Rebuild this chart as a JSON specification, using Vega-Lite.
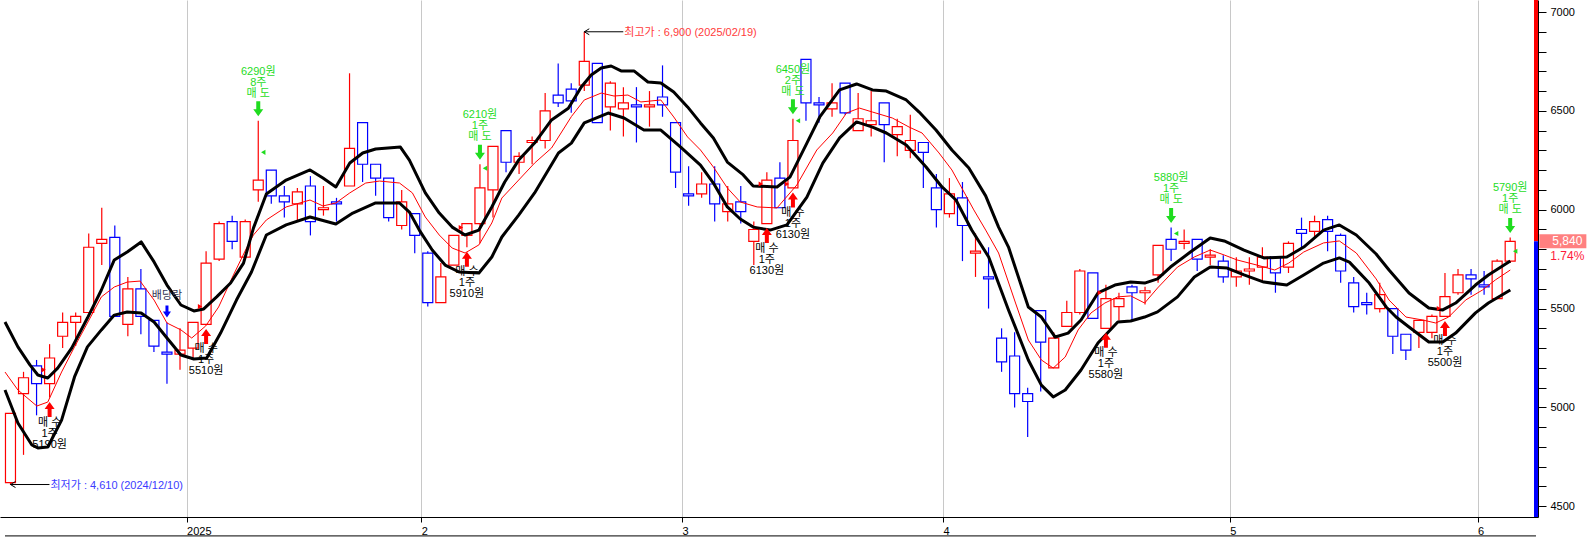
{
  "$schema": "https://vega.github.io/schema/vega-lite/v6.json",
  "description": "Daily candles Dec 2024 - Jun 2025 with envelope bands and trade marks",
  "width": 1538,
  "height": 517,
  "autosize": {"type": "none"},
  "padding": {"left": 0, "top": 0, "right": 54, "bottom": 20},
  "background": "white",
  "config": {
    "view": {"stroke": null},
    "axis": {"labelOverlap": false, "labelFlush": false, "title": null}
  },
  "datasets": {
    "candles": [
      {"i":0,"o":4620,"h":4970,"l":4610,"c":4970},
      {"i":1,"o":5070,"h":5180,"l":4760,"c":5150},
      {"i":2,"o":5210,"h":5240,"l":4960,"c":5120},
      {"i":3,"o":5120,"h":5320,"l":5050,"c":5250},
      {"i":4,"o":5360,"h":5480,"l":5300,"c":5430},
      {"i":5,"o":5430,"h":5480,"l":5310,"c":5460},
      {"i":6,"o":5480,"h":5880,"l":5480,"c":5810},
      {"i":7,"o":5830,"h":6010,"l":5720,"c":5850},
      {"i":8,"o":5860,"h":5920,"l":5460,"c":5460},
      {"i":9,"o":5420,"h":5660,"l":5360,"c":5600},
      {"i":10,"o":5600,"h":5700,"l":5370,"c":5460},
      {"i":11,"o":5440,"h":5440,"l":5280,"c":5310},
      {"i":12,"o":5280,"h":5430,"l":5120,"c":5270},
      {"i":13,"o":5270,"h":5400,"l":5190,"c":5290},
      {"i":14,"o":5300,"h":5430,"l":5250,"c":5430},
      {"i":15,"o":5420,"h":5790,"l":5420,"c":5730},
      {"i":16,"o":5750,"h":5940,"l":5740,"c":5930},
      {"i":17,"o":5940,"h":5970,"l":5800,"c":5840},
      {"i":18,"o":5760,"h":5950,"l":5760,"c":5940},
      {"i":19,"o":6100,"h":6450,"l":6040,"c":6150},
      {"i":20,"o":6200,"h":6200,"l":6030,"c":6070},
      {"i":21,"o":6070,"h":6120,"l":5960,"c":6040},
      {"i":22,"o":6030,"h":6110,"l":5940,"c":6090},
      {"i":23,"o":6120,"h":6170,"l":5870,"c":5940},
      {"i":24,"o":6000,"h":6120,"l":5970,"c":6010},
      {"i":25,"o":6040,"h":6060,"l":5940,"c":6030},
      {"i":26,"o":6120,"h":6690,"l":6120,"c":6310},
      {"i":27,"o":6440,"h":6440,"l":6140,"c":6230},
      {"i":28,"o":6230,"h":6230,"l":6070,"c":6160},
      {"i":29,"o":6160,"h":6160,"l":5940,"c":5960},
      {"i":30,"o":5920,"h":6100,"l":5900,"c":6040},
      {"i":31,"o":5980,"h":5980,"l":5780,"c":5870},
      {"i":32,"o":5780,"h":5790,"l":5510,"c":5530},
      {"i":33,"o":5530,"h":5730,"l":5530,"c":5660},
      {"i":34,"o":5720,"h":5870,"l":5720,"c":5870},
      {"i":35,"o":5870,"h":5930,"l":5810,"c":5930},
      {"i":36,"o":5930,"h":6230,"l":5830,"c":6110},
      {"i":37,"o":6100,"h":6320,"l":5960,"c":6320},
      {"i":38,"o":6400,"h":6400,"l":6190,"c":6240},
      {"i":39,"o":6240,"h":6290,"l":6180,"c":6270},
      {"i":40,"o":6340,"h":6370,"l":6230,"c":6350},
      {"i":41,"o":6350,"h":6590,"l":6310,"c":6500},
      {"i":42,"o":6580,"h":6740,"l":6520,"c":6540},
      {"i":43,"o":6610,"h":6640,"l":6490,"c":6550},
      {"i":44,"o":6630,"h":6900,"l":6600,"c":6750},
      {"i":45,"o":6740,"h":6740,"l":6440,"c":6440},
      {"i":46,"o":6520,"h":6650,"l":6400,"c":6640},
      {"i":47,"o":6510,"h":6620,"l":6370,"c":6540},
      {"i":48,"o":6530,"h":6620,"l":6340,"c":6520},
      {"i":49,"o":6520,"h":6600,"l":6420,"c":6530},
      {"i":50,"o":6570,"h":6730,"l":6470,"c":6530},
      {"i":51,"o":6440,"h":6440,"l":6110,"c":6190},
      {"i":52,"o":6080,"h":6220,"l":6020,"c":6070},
      {"i":53,"o":6080,"h":6190,"l":6060,"c":6130},
      {"i":54,"o":6130,"h":6220,"l":5940,"c":6030},
      {"i":55,"o":5990,"h":6120,"l":5940,"c":6030},
      {"i":56,"o":6040,"h":6120,"l":5930,"c":5990},
      {"i":57,"o":5840,"h":5940,"l":5720,"c":5900},
      {"i":58,"o":5930,"h":6190,"l":5930,"c":6150},
      {"i":59,"o":6160,"h":6240,"l":6010,"c":6010},
      {"i":60,"o":6110,"h":6460,"l":6110,"c":6350},
      {"i":61,"o":6760,"h":6760,"l":6450,"c":6540},
      {"i":62,"o":6540,"h":6570,"l":6440,"c":6530},
      {"i":63,"o":6510,"h":6640,"l":6470,"c":6540},
      {"i":64,"o":6640,"h":6640,"l":6480,"c":6490},
      {"i":65,"o":6400,"h":6590,"l":6400,"c":6460},
      {"i":66,"o":6430,"h":6600,"l":6370,"c":6450},
      {"i":67,"o":6540,"h":6540,"l":6240,"c":6430},
      {"i":68,"o":6380,"h":6460,"l":6270,"c":6420},
      {"i":69,"o":6300,"h":6480,"l":6260,"c":6350},
      {"i":70,"o":6340,"h":6340,"l":6110,"c":6290},
      {"i":71,"o":6110,"h":6180,"l":5910,"c":6000},
      {"i":72,"o":5980,"h":6160,"l":5960,"c":6080},
      {"i":73,"o":6060,"h":6140,"l":5740,"c":5920},
      {"i":74,"o":5780,"h":5880,"l":5660,"c":5790},
      {"i":75,"o":5660,"h":5810,"l":5500,"c":5650},
      {"i":76,"o":5350,"h":5400,"l":5180,"c":5230},
      {"i":77,"o":5260,"h":5380,"l":5000,"c":5070},
      {"i":78,"o":5070,"h":5100,"l":4850,"c":5030},
      {"i":79,"o":5490,"h":5490,"l":5080,"c":5330},
      {"i":80,"o":5200,"h":5380,"l":5200,"c":5350},
      {"i":81,"o":5410,"h":5540,"l":5410,"c":5480},
      {"i":82,"o":5480,"h":5700,"l":5470,"c":5690},
      {"i":83,"o":5680,"h":5680,"l":5450,"c":5450},
      {"i":84,"o":5400,"h":5620,"l":5400,"c":5550},
      {"i":85,"o":5510,"h":5580,"l":5440,"c":5550},
      {"i":86,"o":5610,"h":5620,"l":5440,"c":5580},
      {"i":87,"o":5580,"h":5610,"l":5520,"c":5590},
      {"i":88,"o":5670,"h":5820,"l":5630,"c":5820},
      {"i":89,"o":5850,"h":5910,"l":5740,"c":5800},
      {"i":90,"o":5830,"h":5900,"l":5800,"c":5840},
      {"i":91,"o":5850,"h":5850,"l":5690,"c":5750},
      {"i":92,"o":5760,"h":5800,"l":5720,"c":5770},
      {"i":93,"o":5740,"h":5770,"l":5630,"c":5660},
      {"i":94,"o":5660,"h":5760,"l":5610,"c":5690},
      {"i":95,"o":5690,"h":5760,"l":5620,"c":5700},
      {"i":96,"o":5710,"h":5810,"l":5640,"c":5760},
      {"i":97,"o":5760,"h":5760,"l":5580,"c":5680},
      {"i":98,"o":5710,"h":5840,"l":5680,"c":5830},
      {"i":99,"o":5900,"h":5960,"l":5800,"c":5880},
      {"i":100,"o":5890,"h":5970,"l":5860,"c":5940},
      {"i":101,"o":5950,"h":5970,"l":5790,"c":5890},
      {"i":102,"o":5870,"h":5880,"l":5630,"c":5690},
      {"i":103,"o":5630,"h":5660,"l":5480,"c":5510},
      {"i":104,"o":5530,"h":5580,"l":5470,"c":5520},
      {"i":105,"o":5500,"h":5630,"l":5480,"c":5570},
      {"i":106,"o":5500,"h":5500,"l":5270,"c":5360},
      {"i":107,"o":5370,"h":5370,"l":5240,"c":5290},
      {"i":108,"o":5380,"h":5440,"l":5300,"c":5440},
      {"i":109,"o":5380,"h":5470,"l":5350,"c":5460},
      {"i":110,"o":5460,"h":5680,"l":5460,"c":5560},
      {"i":111,"o":5580,"h":5700,"l":5570,"c":5670},
      {"i":112,"o":5670,"h":5700,"l":5570,"c":5650},
      {"i":113,"o":5620,"h":5690,"l":5570,"c":5610},
      {"i":114,"o":5550,"h":5750,"l":5550,"c":5740},
      {"i":115,"o":5740,"h":5860,"l":5730,"c":5840}
    ],
    "mid": [
      {"i":-0.42,"p":5179},{"i":0.57,"p":5088},{"i":2.02,"p":5007},{"i":2.86,"p":5027},{"i":3.92,"p":5179},
      {"i":4.91,"p":5306},{"i":5.9,"p":5427},{"i":6.97,"p":5559},{"i":7.96,"p":5609},{"i":8.95,"p":5634},
      {"i":9.94,"p":5639},{"i":11.01,"p":5543},{"i":12.0,"p":5427},{"i":13.07,"p":5392},{"i":13.9,"p":5351},
      {"i":14.97,"p":5412},{"i":15.96,"p":5508},{"i":17.1,"p":5670},{"i":18.1,"p":5806},{"i":18.63,"p":5872},
      {"i":19.62,"p":5948},{"i":21.14,"p":6014},{"i":22.97,"p":6049},{"i":23.96,"p":6019},{"i":24.95,"p":6034},
      {"i":26.02,"p":6085},{"i":27.24,"p":6135},{"i":28.3,"p":6145},{"i":29.83,"p":6135},{"i":30.82,"p":6085},
      {"i":31.81,"p":5963},{"i":32.88,"p":5872},{"i":33.87,"p":5806},{"i":34.86,"p":5781},{"i":35.92,"p":5822},
      {"i":36.91,"p":5933},{"i":37.68,"p":6059},{"i":38.97,"p":6150},{"i":40.19,"p":6236},{"i":41.49,"p":6312},
      {"i":43.01,"p":6471},{"i":44.0,"p":6555},{"i":45.3,"p":6590},{"i":46.28,"p":6575},{"i":47.35,"p":6580},
      {"i":48.34,"p":6545},{"i":49.87,"p":6555},{"i":50.86,"p":6469},{"i":51.92,"p":6368},{"i":52.91,"p":6302},
      {"i":53.9,"p":6216},{"i":54.97,"p":6110},{"i":55.96,"p":6039},{"i":57.26,"p":6014},{"i":58.78,"p":6009},
      {"i":60.3,"p":6125},{"i":61.83,"p":6302},{"i":63.05,"p":6388},{"i":64.11,"p":6489},{"i":65.1,"p":6514},
      {"i":66.1,"p":6494},{"i":67.62,"p":6464},{"i":68.91,"p":6418},{"i":69.9,"p":6388},{"i":71.2,"p":6287},
      {"i":72.19,"p":6201},{"i":73.87,"p":5999},{"i":74.78,"p":5897},{"i":75.77,"p":5781},{"i":77.07,"p":5528},
      {"i":78.05,"p":5341},{"i":79.05,"p":5240},{"i":79.96,"p":5199},{"i":80.88,"p":5255},{"i":81.87,"p":5392},
      {"i":82.86,"p":5478},{"i":83.92,"p":5528},{"i":84.91,"p":5559},{"i":85.9,"p":5564},{"i":86.97,"p":5528},
      {"i":87.96,"p":5604},{"i":89.49,"p":5710},{"i":90.78,"p":5761},{"i":92.0,"p":5796},{"i":93.07,"p":5771},
      {"i":94.05,"p":5746},{"i":95.58,"p":5720},{"i":96.95,"p":5695},{"i":98.02,"p":5730},{"i":99.17,"p":5786},
      {"i":100.69,"p":5832},{"i":101.9,"p":5842},{"i":103.2,"p":5781},{"i":104.72,"p":5650},{"i":105.71,"p":5543},
      {"i":107.01,"p":5457},{"i":108.3,"p":5442},{"i":109.29,"p":5427},{"i":110.28,"p":5457},{"i":111.58,"p":5543},
      {"i":112.88,"p":5594},{"i":113.87,"p":5645},{"i":115.01,"p":5695}
    ],
    "band": [
      {"b":"U","i":-0.42,"p":5432},{"b":"U","i":0.57,"p":5306},{"b":"U","i":1.49,"p":5215},{"b":"U","i":2.1,"p":5164},
      {"b":"U","i":2.86,"p":5149},{"b":"U","i":3.62,"p":5199},{"b":"U","i":4.69,"p":5300},{"b":"U","i":5.9,"p":5452},
      {"b":"U","i":6.97,"p":5594},{"b":"U","i":7.96,"p":5746},{"b":"U","i":8.95,"p":5786},{"b":"U","i":10.02,"p":5837},
      {"b":"U","i":11.01,"p":5736},{"b":"U","i":12.0,"p":5619},{"b":"U","i":13.07,"p":5518},{"b":"U","i":14.06,"p":5488},
      {"b":"U","i":14.82,"p":5498},{"b":"U","i":15.81,"p":5559},{"b":"U","i":16.88,"p":5629},{"b":"U","i":17.87,"p":5730},
      {"b":"U","i":18.63,"p":5907},{"b":"U","i":19.62,"p":6079},{"b":"U","i":21.14,"p":6150},{"b":"U","i":22.97,"p":6201},
      {"b":"U","i":23.96,"p":6160},{"b":"U","i":24.95,"p":6115},{"b":"U","i":26.02,"p":6236},{"b":"U","i":27.01,"p":6287},
      {"b":"U","i":28.0,"p":6307},{"b":"U","i":29.9,"p":6317},{"b":"U","i":30.59,"p":6251},{"b":"U","i":31.81,"p":6085},
      {"b":"U","i":32.88,"p":5983},{"b":"U","i":33.87,"p":5912},{"b":"U","i":34.86,"p":5872},{"b":"U","i":35.92,"p":5897},
      {"b":"U","i":36.91,"p":6014},{"b":"U","i":37.9,"p":6140},{"b":"U","i":38.97,"p":6251},{"b":"U","i":40.19,"p":6337},
      {"b":"U","i":41.49,"p":6454},{"b":"U","i":42.78,"p":6513},{"b":"U","i":43.77,"p":6621},{"b":"U","i":44.53,"p":6681},
      {"b":"U","i":45.3,"p":6717},{"b":"U","i":46.06,"p":6727},{"b":"U","i":46.82,"p":6702},{"b":"U","i":47.81,"p":6702},
      {"b":"U","i":48.88,"p":6646},{"b":"U","i":49.87,"p":6641},{"b":"U","i":50.86,"p":6595},{"b":"U","i":51.92,"p":6520},
      {"b":"U","i":52.91,"p":6439},{"b":"U","i":53.9,"p":6363},{"b":"U","i":54.97,"p":6241},{"b":"U","i":56.19,"p":6176},
      {"b":"U","i":56.95,"p":6120},{"b":"U","i":58.78,"p":6115},{"b":"U","i":59.77,"p":6165},{"b":"U","i":61.07,"p":6337},
      {"b":"U","i":62.06,"p":6469},{"b":"U","i":63.58,"p":6606},{"b":"U","i":64.88,"p":6636},{"b":"U","i":66.1,"p":6606},
      {"b":"U","i":67.16,"p":6600},{"b":"U","i":68.69,"p":6555},{"b":"U","i":69.68,"p":6494},{"b":"U","i":70.97,"p":6403},
      {"b":"U","i":72.19,"p":6302},{"b":"U","i":73.49,"p":6211},{"b":"U","i":74.78,"p":6070},{"b":"U","i":75.77,"p":5912},
      {"b":"U","i":76.53,"p":5811},{"b":"U","i":78.05,"p":5508},{"b":"U","i":79.05,"p":5457},{"b":"U","i":80.11,"p":5356},
      {"b":"U","i":81.1,"p":5376},{"b":"U","i":82.09,"p":5442},{"b":"U","i":83.39,"p":5579},{"b":"U","i":84.69,"p":5619},
      {"b":"U","i":85.9,"p":5634},{"b":"U","i":86.97,"p":5629},{"b":"U","i":87.96,"p":5650},{"b":"U","i":88.95,"p":5710},
      {"b":"U","i":90.48,"p":5786},{"b":"U","i":92.0,"p":5857},{"b":"U","i":93.07,"p":5842},{"b":"U","i":94.59,"p":5796},
      {"b":"U","i":96.11,"p":5756},{"b":"U","i":97.87,"p":5761},{"b":"U","i":99.17,"p":5811},{"b":"U","i":100.69,"p":5897},
      {"b":"U","i":101.9,"p":5923},{"b":"U","i":103.2,"p":5872},{"b":"U","i":104.72,"p":5776},{"b":"U","i":105.71,"p":5695},
      {"b":"U","i":107.24,"p":5579},{"b":"U","i":108.76,"p":5503},{"b":"U","i":109.83,"p":5493},{"b":"U","i":110.82,"p":5528},
      {"b":"U","i":112.34,"p":5619},{"b":"U","i":113.33,"p":5670},{"b":"U","i":115.01,"p":5741},
      {"b":"L","i":-0.42,"p":5088},{"b":"L","i":0.57,"p":4921},{"b":"L","i":1.64,"p":4810},{"b":"L","i":2.1,"p":4795},
      {"b":"L","i":2.86,"p":4800},{"b":"L","i":3.92,"p":4936},{"b":"L","i":4.91,"p":5154},{"b":"L","i":5.9,"p":5306},
      {"b":"L","i":6.97,"p":5392},{"b":"L","i":7.96,"p":5467},{"b":"L","i":8.95,"p":5483},{"b":"L","i":10.02,"p":5478},
      {"b":"L","i":11.01,"p":5432},{"b":"L","i":12.0,"p":5351},{"b":"L","i":13.07,"p":5265},{"b":"L","i":14.06,"p":5245},
      {"b":"L","i":15.05,"p":5250},{"b":"L","i":16.11,"p":5376},{"b":"L","i":17.33,"p":5543},{"b":"L","i":18.48,"p":5685},
      {"b":"L","i":19.62,"p":5872},{"b":"L","i":21.14,"p":5923},{"b":"L","i":22.97,"p":5963},{"b":"L","i":24.95,"p":5928},
      {"b":"L","i":26.25,"p":5983},{"b":"L","i":28.0,"p":6034},{"b":"L","i":29.83,"p":6034},{"b":"L","i":30.59,"p":5988},
      {"b":"L","i":31.35,"p":5897},{"b":"L","i":32.34,"p":5796},{"b":"L","i":33.33,"p":5720},{"b":"L","i":34.4,"p":5685},
      {"b":"L","i":35.92,"p":5680},{"b":"L","i":36.91,"p":5761},{"b":"L","i":37.68,"p":5862},{"b":"L","i":38.97,"p":5973},
      {"b":"L","i":40.19,"p":6085},{"b":"L","i":42.02,"p":6287},{"b":"L","i":43.01,"p":6337},{"b":"L","i":44.0,"p":6439},
      {"b":"L","i":45.83,"p":6489},{"b":"L","i":47.05,"p":6464},{"b":"L","i":48.57,"p":6403},{"b":"L","i":49.87,"p":6403},
      {"b":"L","i":51.39,"p":6317},{"b":"L","i":52.91,"p":6226},{"b":"L","i":53.9,"p":6135},{"b":"L","i":54.97,"p":6014},
      {"b":"L","i":55.96,"p":5953},{"b":"L","i":56.95,"p":5912},{"b":"L","i":58.25,"p":5897},{"b":"L","i":59.54,"p":5923},
      {"b":"L","i":61.07,"p":6064},{"b":"L","i":62.29,"p":6236},{"b":"L","i":63.58,"p":6363},{"b":"L","i":64.88,"p":6444},
      {"b":"L","i":66.1,"p":6418},{"b":"L","i":67.16,"p":6388},{"b":"L","i":68.69,"p":6327},{"b":"L","i":70.21,"p":6216},
      {"b":"L","i":71.43,"p":6115},{"b":"L","i":72.5,"p":6049},{"b":"L","i":73.71,"p":5897},{"b":"L","i":75.01,"p":5761},
      {"b":"L","i":76.53,"p":5493},{"b":"L","i":78.05,"p":5240},{"b":"L","i":79.05,"p":5113},{"b":"L","i":79.96,"p":5053},
      {"b":"L","i":80.88,"p":5088},{"b":"L","i":82.09,"p":5189},{"b":"L","i":83.39,"p":5326},{"b":"L","i":84.91,"p":5432},
      {"b":"L","i":85.9,"p":5437},{"b":"L","i":86.97,"p":5457},{"b":"L","i":87.96,"p":5483},{"b":"L","i":89.49,"p":5559},
      {"b":"L","i":90.78,"p":5660},{"b":"L","i":92.0,"p":5710},{"b":"L","i":93.3,"p":5705},{"b":"L","i":94.59,"p":5670},
      {"b":"L","i":96.11,"p":5634},{"b":"L","i":97.87,"p":5619},{"b":"L","i":99.17,"p":5670},{"b":"L","i":100.69,"p":5730},
      {"b":"L","i":101.9,"p":5756},{"b":"L","i":102.67,"p":5735},{"b":"L","i":104.19,"p":5629},{"b":"L","i":105.49,"p":5508},
      {"b":"L","i":106.25,"p":5457},{"b":"L","i":107.24,"p":5407},{"b":"L","i":108.76,"p":5331},{"b":"L","i":109.83,"p":5331},
      {"b":"L","i":110.82,"p":5376},{"b":"L","i":112.34,"p":5478},{"b":"L","i":113.33,"p":5528},{"b":"L","i":115.01,"p":5594}
    ],
    "buys": [
      {"i":3,"px":5190,"q":"1주","t":"5190원"},
      {"i":15,"px":5510,"q":"1주","t":"5510원"},
      {"i":35,"px":5910,"q":"1주","t":"5910원"},
      {"i":58,"px":6130,"q":"1주","t":"6130원"},
      {"i":60,"px":6130,"q":"1주","t":"6130원"},
      {"i":84,"px":5580,"q":"1주","t":"5580원"},
      {"i":110,"px":5500,"q":"1주","t":"5500원"}
    ],
    "sells": [
      {"i":19,"px":6290,"q":"8주","t":"6290원"},
      {"i":36,"px":6210,"q":"1주","t":"6210원"},
      {"i":60,"px":6450,"q":"2주","t":"6450원"},
      {"i":89,"px":5880,"q":"1주","t":"5880원"},
      {"i":115,"px":5790,"q":"1주","t":"5790원"}
    ],
    "divs": [{"i":12,"t":"배당락"}],
    "extremes": [
      {"i":44,"p":6900,"k":"hi","t":"최고가 : 6,900 (2025/02/19)"},
      {"i":0,"p":4610,"k":"lo","t":"최저가 : 4,610 (2024/12/10)"}
    ],
    "last": [{"p":5840,"t":"5,840","chg":"1.74%"}],
    "side": [
      {"k":"up","p":5840,"p2":7060.7},
      {"k":"dn","p":4445.7,"p2":5840}
    ]
  },
  "layer": [
    {
      "encoding": {
        "x": {
          "field": "i", "type": "quantitative", "title": null,
          "scale": {"domain": [-0.42, 116.75], "nice": false, "zero": false},
          "axis": {
            "title": null,
            "values": [13.5, 31.5, 51.5, 71.5, 93.5, 112.5],
            "labelExpr": "datum.value < 20 ? '2025' : datum.value < 40 ? '2' : datum.value < 60 ? '3' : datum.value < 80 ? '4' : datum.value < 100 ? '5' : '6'",
            "grid": true, "gridColor": "#c8c8c8", "gridWidth": 1,
            "domainColor": "#000000", "tickColor": "#000000", "tickSize": 5,
            "labelAlign": "left", "labelBaseline": "top", "labelPadding": 3,
            "labelFont": "Liberation Sans", "labelFontSize": 11, "labelColor": "#000000",
            "labelFlush": false, "labelOverlap": false, "labelBound": false
          }
        },
        "y": {
          "field": "p", "type": "quantitative", "title": null,
          "scale": {"domain": [4445.7, 7060.7], "nice": false, "zero": false},
          "axis": {
            "title": null, "orient": "right",
            "values": [4500,4600,4700,4800,4900,5000,5100,5200,5300,5400,5500,5600,5700,5800,5900,6000,6100,6200,6300,6400,6500,6600,6700,6800,6900,7000],
            "labelExpr": "datum.value % 500 == 0 ? '' + datum.value : ''",
            "grid": false, "domainColor": "#000000", "tickColor": "#000000", "tickSize": 8,
            "labelPadding": 4, "labelFont": "Liberation Sans", "labelFontSize": 11, "labelColor": "#000000",
            "labelFlush": false, "labelOverlap": false
          }
        }
      },
      "layer": [
        {
          "data": {"name": "candles"},
          "mark": {"type": "rule", "strokeWidth": 1.2},
          "encoding": {
            "y": {"field": "l", "type": "quantitative", "title": null, "scale": {"domain": [4445.7, 7060.7], "nice": false, "zero": false}},
            "y2": {"field": "h"},
            "color": {"condition": {"test": "datum.c >= datum.o", "value": "#ff0000"}, "value": "#0000ff"}
          }
        },
        {
          "data": {"name": "candles"},
          "mark": {"type": "bar", "width": 10, "fill": "white", "strokeWidth": 1.2},
          "encoding": {
            "y": {"field": "o", "type": "quantitative", "title": null, "scale": {"domain": [4445.7, 7060.7], "nice": false, "zero": false}},
            "y2": {"field": "c"},
            "stroke": {"condition": {"test": "datum.c >= datum.o", "value": "#ff0000"}, "value": "#0000ff"}
          }
        },
        {
          "data": {"name": "mid"},
          "mark": {"type": "line", "color": "#ff0000", "strokeWidth": 1}
        },
        {
          "data": {"name": "band"},
          "mark": {"type": "line", "color": "#000000", "strokeWidth": 3, "strokeJoin": "round"},
          "encoding": {"detail": {"field": "b"}}
        },
        {
          "data": {"name": "buys"},
          "mark": {"type": "point", "shape": "triangle-right", "filled": true, "size": 26, "color": "#ff0000", "opacity": 1, "xOffset": -6},
          "encoding": {
            "y": {"field": "px", "type": "quantitative", "title": null, "scale": {"domain": [4445.7, 7060.7], "nice": false, "zero": false}}
          }
        },
        {
          "data": {"name": "sells"},
          "mark": {"type": "point", "shape": "triangle-left", "filled": true, "size": 26, "color": "#1fdc1f", "opacity": 1, "xOffset": 5},
          "encoding": {
            "y": {"field": "px", "type": "quantitative", "title": null, "scale": {"domain": [4445.7, 7060.7], "nice": false, "zero": false}}
          }
        },
        {
          "data": {"name": "buys"},
          "transform": [{"lookup": "i", "from": {"data": {"name": "candles"}, "key": "i", "fields": ["l"]}}],
          "encoding": {
            "y": {"field": "l", "type": "quantitative", "title": null, "scale": {"domain": [4445.7, 7060.7], "nice": false, "zero": false}}
          },
          "layer": [
            {
              "mark": {"type": "point", "shape": "M0,-7.5L5,-0.5L2,-0.5L2,7.5L-2,7.5L-2,-0.5L-5,-0.5Z", "size": 4, "filled": true, "color": "#ff0000", "opacity": 1, "strokeWidth": 0, "yOffset": 12}
            },
            {
              "mark": {"type": "text", "text": "매 수", "dy": 25, "font": "Liberation Sans, Noto Sans CJK KR", "fontSize": 11, "color": "#000000"}
            },
            {
              "mark": {"type": "text", "dy": 36, "font": "Liberation Sans, Noto Sans CJK KR", "fontSize": 11, "color": "#000000"},
              "encoding": {"text": {"field": "q"}}
            },
            {
              "mark": {"type": "text", "dy": 47, "font": "Liberation Sans, Noto Sans CJK KR", "fontSize": 11, "color": "#000000"},
              "encoding": {"text": {"field": "t"}}
            }
          ]
        },
        {
          "data": {"name": "sells"},
          "transform": [{"lookup": "i", "from": {"data": {"name": "candles"}, "key": "i", "fields": ["h"]}}],
          "encoding": {
            "y": {"field": "h", "type": "quantitative", "title": null, "scale": {"domain": [4445.7, 7060.7], "nice": false, "zero": false}}
          },
          "layer": [
            {
              "mark": {"type": "point", "shape": "M0,7.5L5,0.5L2,0.5L2,-7.5L-2,-7.5L-2,0.5L-5,0.5Z", "size": 4, "filled": true, "color": "#1fdc1f", "opacity": 1, "strokeWidth": 0, "yOffset": -12}
            },
            {
              "mark": {"type": "text", "text": "매 도", "dy": -27, "font": "Liberation Sans, Noto Sans CJK KR", "fontSize": 11, "color": "#1fdc1f"}
            },
            {
              "mark": {"type": "text", "dy": -38, "font": "Liberation Sans, Noto Sans CJK KR", "fontSize": 11, "color": "#1fdc1f"},
              "encoding": {"text": {"field": "q"}}
            },
            {
              "mark": {"type": "text", "dy": -49, "font": "Liberation Sans, Noto Sans CJK KR", "fontSize": 11, "color": "#1fdc1f"},
              "encoding": {"text": {"field": "t"}}
            }
          ]
        },
        {
          "data": {"name": "divs"},
          "transform": [{"lookup": "i", "from": {"data": {"name": "candles"}, "key": "i", "fields": ["h"]}}],
          "encoding": {
            "y": {"field": "h", "type": "quantitative", "title": null, "scale": {"domain": [4445.7, 7060.7], "nice": false, "zero": false}}
          },
          "layer": [
            {
              "mark": {"type": "point", "shape": "M0,6L4,0L1.5,0L1.5,-6L-1.5,-6L-1.5,0L-4,0Z", "size": 4, "filled": true, "color": "#0000ff", "opacity": 1, "strokeWidth": 0, "yOffset": -11}
            },
            {
              "mark": {"type": "text", "dy": -26, "font": "Liberation Sans, Noto Sans CJK KR", "fontSize": 11, "color": "#333355"},
              "encoding": {"text": {"field": "t"}}
            }
          ]
        },
        {
          "data": {"name": "extremes"},
          "layer": [
            {
              "mark": {"type": "point", "shape": "M0,0H39M0,0L5,-3M0,0L5,3", "size": 4, "filled": false, "color": "#000000", "opacity": 1, "strokeWidth": 1}
            },
            {
              "mark": {"type": "text", "align": "left", "dx": 40, "dy": 1, "font": "Liberation Sans, Noto Sans CJK KR", "fontSize": 11},
              "encoding": {
                "text": {"field": "t"},
                "color": {"condition": {"test": "datum.k == 'hi'", "value": "#ff3b3b"}, "value": "#3b3bff"}
              }
            }
          ]
        }
      ]
    },
    {
      "data": {"name": "side"},
      "mark": {"type": "rule", "strokeWidth": 4},
      "encoding": {
        "x": {"datum": 116.98, "type": "quantitative", "title": null},
        "y": {
          "field": "p", "type": "quantitative", "title": null,
          "axis": {
            "title": null, "orient": "right",
            "values": [4500,4600,4700,4800,4900,5000,5100,5200,5300,5400,5500,5600,5700,5800,5900,6000,6100,6200,6300,6400,6500,6600,6700,6800,6900,7000],
            "labelExpr": "datum.value % 500 == 0 ? '' + datum.value : ''",
            "grid": false, "domainColor": "#000000", "tickColor": "#000000", "tickSize": 8,
            "labelPadding": 4, "labelFont": "Liberation Sans", "labelFontSize": 11, "labelColor": "#000000",
            "labelFlush": false, "labelOverlap": false
          }
        },
        "y2": {"field": "p2"},
        "color": {"condition": {"test": "datum.k == 'up'", "value": "#ff0000"}, "value": "#0000ff"}
      }
    },
    {
      "data": {"values": [{"edge": "bottom"}]},
      "mark": {"type": "rule", "color": "#000000", "strokeWidth": 1},
      "encoding": {
        "x": {"datum": -0.42, "type": "quantitative", "title": null},
        "x2": {"datum": 116.98},
        "y": {
          "datum": 4350, "type": "quantitative", "title": null,
          "axis": {
            "title": null, "orient": "right",
            "values": [4500,4600,4700,4800,4900,5000,5100,5200,5300,5400,5500,5600,5700,5800,5900,6000,6100,6200,6300,6400,6500,6600,6700,6800,6900,7000],
            "labelExpr": "datum.value % 500 == 0 ? '' + datum.value : ''",
            "grid": false, "domainColor": "#000000", "tickColor": "#000000", "tickSize": 8,
            "labelPadding": 4, "labelFont": "Liberation Sans", "labelFontSize": 11, "labelColor": "#000000",
            "labelFlush": false, "labelOverlap": false
          }
        }
      }
    },
    {
      "data": {"name": "last"},
      "encoding": {
        "y": {
          "field": "p", "type": "quantitative", "title": null,
          "axis": {
            "title": null, "orient": "right",
            "values": [4500,4600,4700,4800,4900,5000,5100,5200,5300,5400,5500,5600,5700,5800,5900,6000,6100,6200,6300,6400,6500,6600,6700,6800,6900,7000],
            "labelExpr": "datum.value % 500 == 0 ? '' + datum.value : ''",
            "grid": false, "domainColor": "#000000", "tickColor": "#000000", "tickSize": 8,
            "labelPadding": 4, "labelFont": "Liberation Sans", "labelFontSize": 11, "labelColor": "#000000",
            "labelFlush": false, "labelOverlap": false
          }
        }
      },
      "layer": [
        {
          "mark": {"type": "point", "shape": "M-23.5,-7H23.5V7H-23.5Z", "size": 4, "filled": true, "color": "#ff8080", "opacity": 1, "strokeWidth": 0},
          "encoding": {"x": {"datum": 119.04, "type": "quantitative", "title": null}}
        },
        {
          "mark": {"type": "text", "font": "Liberation Sans", "fontSize": 12, "color": "#ffffff"},
          "encoding": {"x": {"datum": 119.38, "type": "quantitative", "title": null}, "text": {"field": "t"}}
        },
        {
          "mark": {"type": "text", "dy": 15, "font": "Liberation Sans", "fontSize": 12, "color": "#ff1a3a"},
          "encoding": {"x": {"datum": 119.38, "type": "quantitative", "title": null}, "text": {"field": "chg"}}
        }
      ]
    }
  ]
}
